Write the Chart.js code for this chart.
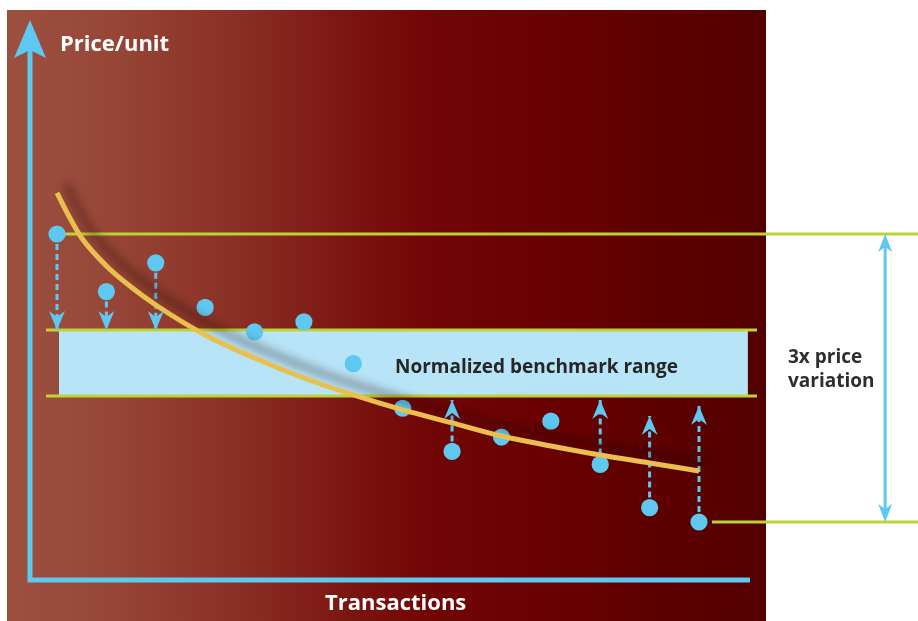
<!DOCTYPE html>
<html>
<head>
<meta charset="utf-8">
<script src="https://cdn.jsdelivr.net/npm/chart.js@4.4.1/dist/chart.umd.min.js"></script>
<style>
  html, body { margin: 0; padding: 0; background: #ffffff; overflow: hidden; }
  canvas { display: block; }
</style>
</head>
<body>
<canvas id="c" width="918" height="621"></canvas>
<script>
// ---------- data ----------
const transactions = [1, 2, 3, 4, 5, 6, 7, 8, 9, 10, 11, 12, 13, 14];
const prices       = [3.00, 2.60, 2.80, 2.49, 2.32, 2.39, 2.10, 1.79, 1.49, 1.59, 1.70, 1.40, 1.10, 1.00];
const trendX       = [1, 1.25, 1.5, 2, 2.5, 3, 4, 5, 6, 7, 8, 9, 10, 11, 12, 13, 14];
const trendPrices  = [3.285, 3.118, 2.972, 2.778, 2.632, 2.507, 2.299, 2.139, 2.000, 1.882, 1.778, 1.688, 1.597, 1.528, 1.465, 1.410, 1.354];
const benchmarkLow  = 1.875;
const benchmarkHigh = 2.333;
const priceMax = 3.0;   // highest observed price
const priceMin = 1.0;   // lowest observed price (3x variation)
const downArrowIdx  = [0, 1, 2];            // pushed down to the benchmark top
const upArrowIdx    = [8, 11, 12, 13];      // pushed up
const upArrowTips   = [1.847, 1.847, 1.736, 1.806];
const labels = {
  yTitle: 'Price/unit',
  xTitle: 'Transactions',
  band: 'Normalized benchmark range',
  variation: ['3x price', 'variation']
};

// ---------- styling ----------
const BLUE = '#5ec8f0';
const GREEN = '#bdd13a';
const BAND = '#b8e4f7';
const CURVE = '#e9c04f';

// scale extents and reference-line extents (x in transaction units)
const X_MIN = -0.1542, X_MAX = 18.4346;
const Y_MIN = 0.3125, Y_MAX = 4.625;
const bandLineX = [0.777, 15.174];
const bandFillX = [1.04, 14.99];
const topLineX = [1.0, X_MAX];
const bottomLineX = [14.263, X_MAX];
const variationArrowX = 17.77;

const datasets = [];

// trend curve (on top)
datasets.push({
  type: 'line', id: 'trend',
  data: trendX.map((t, i) => ({ x: t, y: trendPrices[i] })),
  borderColor: CURVE, borderWidth: 5, pointRadius: 0,
  cubicInterpolationMode: 'monotone', fill: false, order: 1
});
// observed prices
datasets.push({
  type: 'scatter',
  data: transactions.map((t, i) => ({ x: t, y: prices[i] })),
  backgroundColor: BLUE, borderWidth: 0, pointRadius: 8.6, order: 2
});
// dashed arrow shafts
downArrowIdx.forEach(i => datasets.push({
  type: 'line',
  data: [{ x: transactions[i], y: prices[i] }, { x: transactions[i], y: benchmarkHigh }],
  borderColor: BLUE, borderWidth: 3, borderDash: [6, 4], pointRadius: 0, order: 3
}));
upArrowIdx.forEach((i, k) => datasets.push({
  type: 'line',
  data: [{ x: transactions[i], y: prices[i] }, { x: transactions[i], y: upArrowTips[k] }],
  borderColor: BLUE, borderWidth: 3, borderDash: [6, 4], pointRadius: 0, order: 3
}));
// green reference lines
datasets.push({ type: 'line', data: [{ x: topLineX[0], y: priceMax }, { x: topLineX[1], y: priceMax }],
  borderColor: GREEN, borderWidth: 3, pointRadius: 0, order: 4 });
datasets.push({ type: 'line', data: [{ x: bottomLineX[0], y: priceMin }, { x: bottomLineX[1], y: priceMin }],
  borderColor: GREEN, borderWidth: 3, pointRadius: 0, order: 4 });
datasets.push({ type: 'line', data: [{ x: bandLineX[0], y: benchmarkHigh }, { x: bandLineX[1], y: benchmarkHigh }],
  borderColor: GREEN, borderWidth: 3, pointRadius: 0, order: 4 });
datasets.push({ type: 'line', data: [{ x: bandLineX[0], y: benchmarkLow }, { x: bandLineX[1], y: benchmarkLow }],
  borderColor: GREEN, borderWidth: 3, pointRadius: 0, order: 4 });
// benchmark band fill
datasets.push({ type: 'line', data: [{ x: bandFillX[0], y: benchmarkHigh }, { x: bandFillX[1], y: benchmarkHigh }],
  borderWidth: 0, borderColor: 'rgba(0,0,0,0)', pointRadius: 0,
  backgroundColor: BAND, fill: { value: benchmarkLow }, order: 5 });

function head(ctx, x, y, dir, w, h, notch) {
  // dir = 1 : tip points down ; dir = -1 : tip points up
  ctx.beginPath();
  ctx.moveTo(x, y);
  ctx.lineTo(x - w / 2, y - dir * h);
  ctx.lineTo(x, y - dir * (h - notch));
  ctx.lineTo(x + w / 2, y - dir * h);
  ctx.closePath();
  ctx.fill();
}

const decor = {
  id: 'decor',
  beforeDraw(chart) {
    const ctx = chart.ctx;
    ctx.save();
    const g = ctx.createLinearGradient(7, 0, 766, 0);
    g.addColorStop(0, '#9c5040');
    g.addColorStop(0.12, '#984838');
    g.addColorStop(0.30, '#8a3025');
    g.addColorStop(0.45, '#7b1510');
    g.addColorStop(0.55, '#720606');
    g.addColorStop(0.75, '#660000');
    g.addColorStop(1, '#520000');
    ctx.fillStyle = g;
    ctx.fillRect(7, 10, 759, 611);
    ctx.restore();
  },
  beforeDatasetDraw(chart, args) {
    if (args.meta._dataset.id === 'trend') {
      const ctx = chart.ctx;
      ctx.save();
      ctx.shadowColor = 'rgba(25,0,0,0.5)';
      ctx.shadowBlur = 10;
      ctx.shadowOffsetX = 9;
      ctx.shadowOffsetY = -8;
    }
  },
  afterDatasetDraw(chart, args) {
    if (args.meta._dataset.id === 'trend') chart.ctx.restore();
  },
  afterDatasetsDraw(chart) {
    const ctx = chart.ctx;
    const xs = chart.scales.x, ys = chart.scales.y;
    ctx.save();
    ctx.fillStyle = BLUE;
    // arrow heads
    downArrowIdx.forEach(i => head(ctx, xs.getPixelForValue(transactions[i]), ys.getPixelForValue(benchmarkHigh), 1, 16, 19, 6));
    upArrowIdx.forEach((i, k) => head(ctx, xs.getPixelForValue(transactions[i]), ys.getPixelForValue(upArrowTips[k]), -1, 16, 19, 6));
    // axes
    ctx.strokeStyle = BLUE;
    ctx.lineWidth = 5;
    ctx.beginPath();
    ctx.moveTo(30, 50); ctx.lineTo(30, 580); ctx.lineTo(750, 580);
    ctx.stroke();
    head(ctx, 30, 20, -1, 32, 38, 8);
    // 3x variation arrow
    const vx = xs.getPixelForValue(variationArrowX);
    const vt = ys.getPixelForValue(priceMax), vb = ys.getPixelForValue(priceMin);
    ctx.lineWidth = 3;
    ctx.beginPath(); ctx.moveTo(vx, vt + 10); ctx.lineTo(vx, vb - 10); ctx.stroke();
    head(ctx, vx, vt, -1, 14, 18, 5);
    head(ctx, vx, vb, 1, 14, 18, 5);
    // texts
    ctx.textBaseline = 'alphabetic';
    ctx.textAlign = 'left';
    ctx.fillStyle = '#ffffff';
    ctx.font = 'bold 22px "Open Sans"';
    ctx.fillText(labels.yTitle, 60, 51);
    ctx.fillText(labels.xTitle, 325, 610);
    ctx.fillStyle = '#262626';
    ctx.font = 'bold 19px "Open Sans"';
    ctx.fillText(labels.band, 395, 373);
    ctx.fillStyle = '#2e2e2e';
    ctx.fillText(labels.variation[0], 788, 363);
    ctx.fillText(labels.variation[1], 788, 387);
    ctx.restore();
  }
};

new Chart(document.getElementById('c'), {
  type: 'scatter',
  data: { datasets },
  options: {
    responsive: false,
    devicePixelRatio: 1,
    animation: false,
    events: [],
    layout: { padding: 0, autoPadding: false },
    plugins: { legend: { display: false }, tooltip: { enabled: false }, title: { display: false } },
    scales: {
      x: { type: 'linear', min: X_MIN, max: X_MAX, display: false },
      y: { type: 'linear', min: Y_MIN, max: Y_MAX, display: false }
    }
  },
  plugins: [decor]
});
</script>
</body>
</html>
